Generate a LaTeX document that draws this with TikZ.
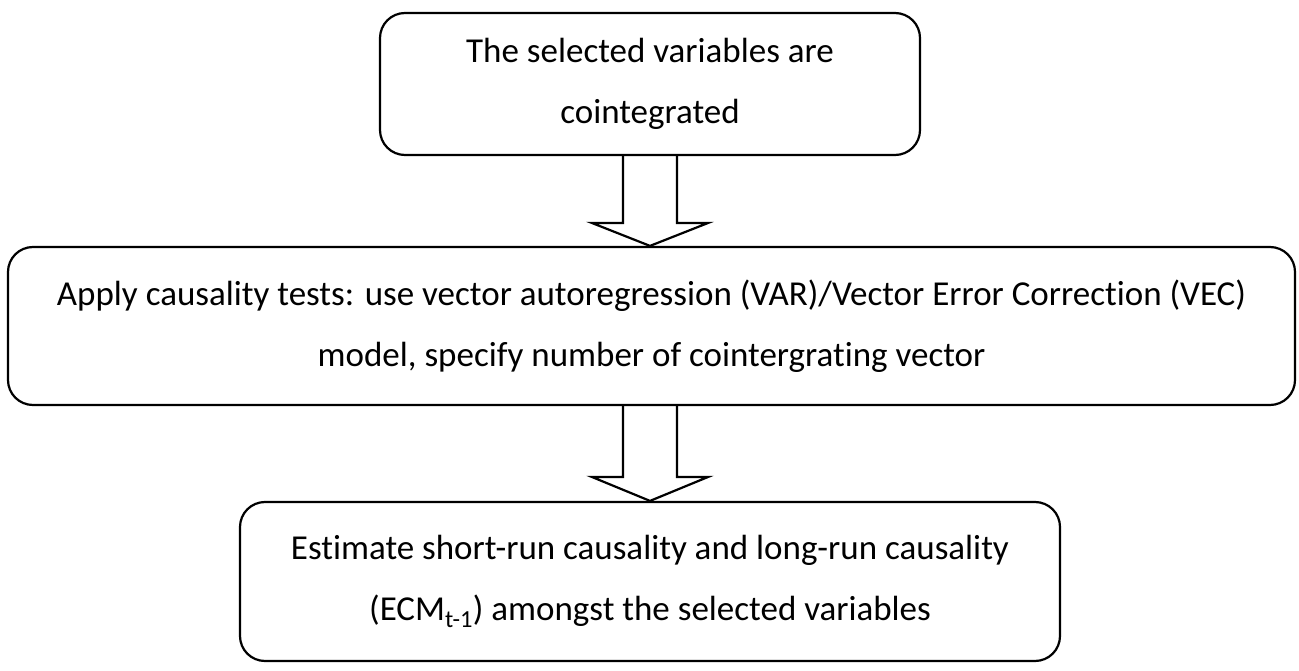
\documentclass[tikz,border=0pt]{standalone}
\usepackage{fontspec}
\setmainfont{Carlito}[RawFeature={-liga;-clig;-calt;-dlig}]
\begin{document}
\begin{tikzpicture}[x=1pt,y=-1pt,
  font=\fontsize{35}{61}\selectfont,
  box/.style={draw, line width=2.2pt, rounded corners=25pt, align=center, inner sep=0pt},
  blockarrow/.style={draw, line width=2.2pt, line join=miter}]
\useasboundingbox (0,0) rectangle (1299,671);
\node[box, minimum width=540pt, minimum height=142pt] (b1) at (650,84)
  {The selected variables are\\cointegrated};
\node[box, minimum width=1287pt, minimum height=158pt] (b2) at (651.5,326)
  {Apply causality tests: use vector autoregression (VAR)/Vector Error Correction (VEC)\\model, specify number of cointergrating vector};
\node[box, minimum width=820pt, minimum height=159pt] (b3) at (650,581.5)
  {Estimate short-run causality and long-run causality\\(ECM\textsubscript{t-1}) amongst the selected variables};
\coordinate (h1) at (650,223);
\coordinate (h2) at (650,477);
\draw[blockarrow] ([xshift=-27pt]b1.south) -- ([xshift=-27pt]h1) -- ([xshift=-58pt]h1)
  -- (b1.south |- b2.north) -- ([xshift=58pt]h1) -- ([xshift=27pt]h1) -- ([xshift=27pt]b1.south);
\draw[blockarrow] ([xshift=-27pt]h2 |- b2.south) -- ([xshift=-27pt]h2) -- ([xshift=-58pt]h2)
  -- (h2 |- b3.north) -- ([xshift=58pt]h2) -- ([xshift=27pt]h2) -- ([xshift=27pt]h2 |- b2.south);
\end{tikzpicture}
\end{document}
